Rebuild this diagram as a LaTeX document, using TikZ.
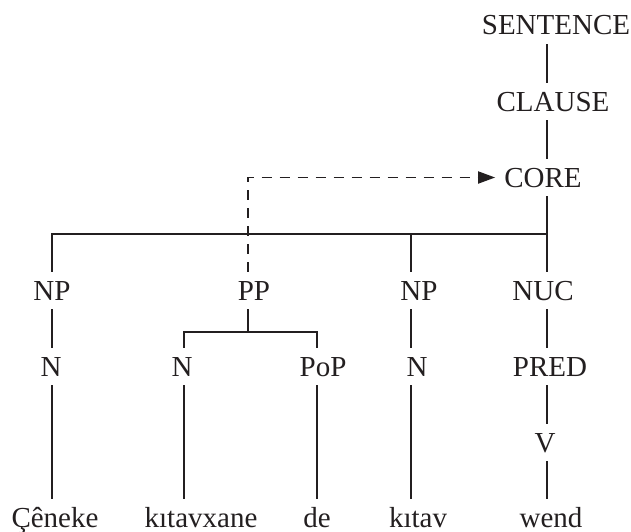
\documentclass[tikz,border=0pt]{standalone}
\usepackage{fontspec}
\setmainfont{Liberation Serif}
\usetikzlibrary{arrows.meta}
\definecolor{ink}{RGB}{35,31,32}
\begin{document}
\begin{tikzpicture}[x=1pt,y=-1pt,
  lab/.style={font=\fontsize{29}{34}\selectfont, text=ink, text height=19pt, text depth=0pt, inner xsep=9pt, inner ysep=9pt, anchor=base},
  word/.style={lab, text height=20pt, inner ysep=8pt},
  edge/.style={line width=1.8pt, draw=ink},
  dashline/.style={edge, dash pattern=on 10pt off 8pt, -{Triangle[length=17pt,width=12pt]}}
]
\useasboundingbox (0,0) rectangle (631,532);
% columns
\coordinate (c1) at (52,0);
\coordinate (c2) at (184,0);
\coordinate (c3) at (248,0);
\coordinate (c4) at (317,0);
\coordinate (c5) at (411,0);
\coordinate (c6) at (547,0);
\coordinate (bar) at (0,234);
\coordinate (ppbar) at (0,332);
% nodes
\node[lab] (sent) at (556,35) {SENTENCE};
\node[lab] (clause) at (553,111) {CLAUSE};
\node[lab] (core) at (543,187) {CORE};
\node[lab] (np1) at (52,300) {NP};
\node[lab] (pp) at (254,300) {PP};
\node[lab] (np2) at (419,300) {NP};
\node[lab] (nuc) at (543,300) {NUC};
\node[lab] (n1) at (51,376) {N};
\node[lab] (n2) at (182,376) {N};
\node[lab] (pop) at (323,376) {PoP};
\node[lab] (n3) at (417,376) {N};
\node[lab] (pred) at (550,376) {PRED};
\node[lab] (v) at (545,452) {V};
\node[word] (w1) at (55,527) {Çêneke};
\node[word] (w2) at (201,527) {kıtavxane};
\node[word] (w3) at (317,527) {de};
\node[word] (w4) at (418,527) {kıtav};
\node[word] (w5) at (551,527) {wend};
% spine
\draw[edge] (c6 |- sent.south) -- (c6 |- clause.north);
\draw[edge] (c6 |- clause.south) -- (c6 |- core.north);
\draw[edge] (c6 |- core.south) -- (c6 |- bar);
% core bar
\draw[edge] (c1 |- np1.north) -- (c1 |- bar) -- (c6 |- bar) -- (c6 |- nuc.north);
\draw[edge] (c5 |- bar) -- (c5 |- np2.north);
% dashed link
\draw[dashline] (c3 |- pp.north) -- (c3 |- core.west) -- (core.west);
% PP subtree
\draw[edge] (c3 |- pp.south) -- (c3 |- ppbar);
\draw[edge] (c2 |- n2.north) -- (c2 |- ppbar) -- (c4 |- ppbar) -- (c4 |- pop.north);
% lower lines
\draw[edge] (c1 |- np1.south) -- (c1 |- n1.north);
\draw[edge] (c1 |- n1.south) -- (c1 |- w1.north);
\draw[edge] (c2 |- n2.south) -- (c2 |- w2.north);
\draw[edge] (c4 |- pop.south) -- (c4 |- w3.north);
\draw[edge] (c5 |- np2.south) -- (c5 |- n3.north);
\draw[edge] (c5 |- n3.south) -- (c5 |- w4.north);
\draw[edge] (c6 |- nuc.south) -- (c6 |- pred.north);
\draw[edge] (c6 |- pred.south) -- (c6 |- v.north);
\draw[edge] (c6 |- v.south) -- (c6 |- w5.north);
\end{tikzpicture}
\end{document}
